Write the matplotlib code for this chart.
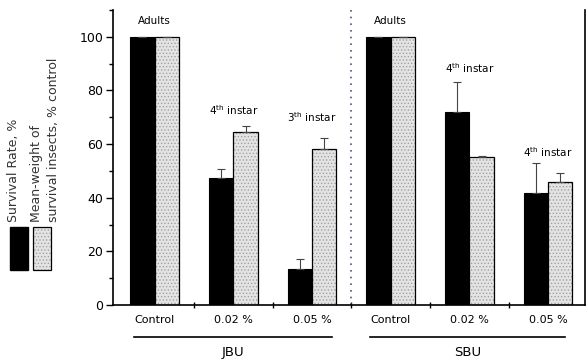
import matplotlib
matplotlib.use('Agg')
import matplotlib.pyplot as plt
import numpy as np
from matplotlib.patches import Rectangle

plt.rcParams['font.family'] = ['DejaVu Sans']
plt.rcParams['mathtext.default'] = 'regular'
plt.rcParams['hatch.linewidth'] = 0.6

# data
categories = ['Control', '0.02 %', '0.05 %', 'Control', '0.02 %', '0.05 %']
groups = ['JBU', 'SBU']
survival = [100, 47.4, 13.4, 100, 72.0, 41.8]
survival_err = [0, 3.3, 3.8, 0, 11.2, 11.2]
weight = [100, 64.6, 58.2, 100, 55.2, 46.0]
weight_err = [0, 2.2, 4.1, 0, 0.5, 3.2]
stage_labels = ['Adults', r'4$^{th}$ instar', r'3$^{th}$ instar',
                'Adults', r'4$^{th}$ instar', r'4$^{th}$ instar']
stage_y = [106, 72.8, 70, 106, 88.4, 57]

fig = plt.figure(figsize=(5.87, 3.64), dpi=100)
ax = fig.add_axes([0.1925, 0.162, 0.804, 0.8105])

x = np.arange(len(categories))
w = 0.31
ax.bar(x - w / 2, survival, w, color='black', edgecolor='black', linewidth=0.8)
# dotted grey fill, then a black outline on top
ax.bar(x + w / 2, weight, w, color='#e4e4e4', edgecolor='#a0a0a0', linewidth=0,
       hatch='.....')
ax.bar(x + w / 2, weight, w, fill=False, edgecolor='black', linewidth=0.9)

ax.errorbar(x - w / 2, survival, yerr=[np.zeros(6), survival_err], fmt='none',
            ecolor='#444444', elinewidth=0.8, capsize=3, capthick=0.8)
ax.errorbar(x + w / 2, weight, yerr=[np.zeros(6), weight_err], fmt='none',
            ecolor='#444444', elinewidth=0.8, capsize=3, capthick=0.8)

for xi, lab, yy in zip(x, stage_labels, stage_y):
    ax.text(xi, yy, lab, ha='center', va='center', fontsize=7.5)

ax.axvline(2.5, color='#555577', ls=(0, (1, 3)), lw=1.2)

ax.set_xlim(-0.53, 5.47)
ax.set_ylim(0, 110)
ax.set_yticks([0, 20, 40, 60, 80, 100])
ax.set_yticks(np.arange(0, 111, 10), minor=True)
ax.set_xticks(x)
ax.set_xticklabels(categories, fontsize=8)
ax.set_xticks(np.arange(0.5, 5, 1), minor=True)
ax.tick_params(axis='x', which='major', length=0, pad=7)
ax.tick_params(axis='x', which='minor', length=5, direction='inout', width=1)
ax.tick_params(axis='y', which='major', length=5, width=1, labelsize=9, pad=2)
ax.tick_params(axis='y', which='minor', length=3, width=1)
ax.spines['top'].set_visible(False)
for s in ['left', 'bottom', 'right']:
    ax.spines[s].set_linewidth(1.2)

# group brackets
trans = ax.get_xaxis_transform()
for g, (a, b) in zip(groups, [(-0.26, 2.25), (2.74, 5.22)]):
    ax.plot([a, b], [-0.108, -0.108], color='black', lw=1.2,
            transform=trans, clip_on=False)
    ax.text((a + b) / 2, -0.14, g, ha='center', va='top', fontsize=9.5,
            transform=trans)

# legend boxes on the left
fig.add_artist(Rectangle((10 / 587, 1 - 270 / 364), 18 / 587, 43 / 364,
                         facecolor='black', edgecolor='black',
                         transform=fig.transFigure))
fig.add_artist(Rectangle((33 / 587, 1 - 270 / 364), 18 / 587, 43 / 364,
                         facecolor='#e4e4e4', edgecolor='#a0a0a0', lw=0,
                         hatch='.....', transform=fig.transFigure))
fig.add_artist(Rectangle((33 / 587, 1 - 270 / 364), 18 / 587, 43 / 364,
                         fill=False, edgecolor='black', lw=0.9,
                         transform=fig.transFigure))
fig.text(14 / 587, 1 - 222 / 364, 'Survival Rate, %', rotation=90,
         ha='center', va='bottom', fontsize=9, color='#333333')
fig.text(37 / 587, 1 - 222 / 364, 'Mean-weight of', rotation=90,
         ha='center', va='bottom', fontsize=9, color='#333333')
fig.text(54 / 587, 1 - 222 / 364, 'survival insects, % control', rotation=90,
         ha='center', va='bottom', fontsize=9, color='#333333')

fig.savefig('out.png', dpi=100)
